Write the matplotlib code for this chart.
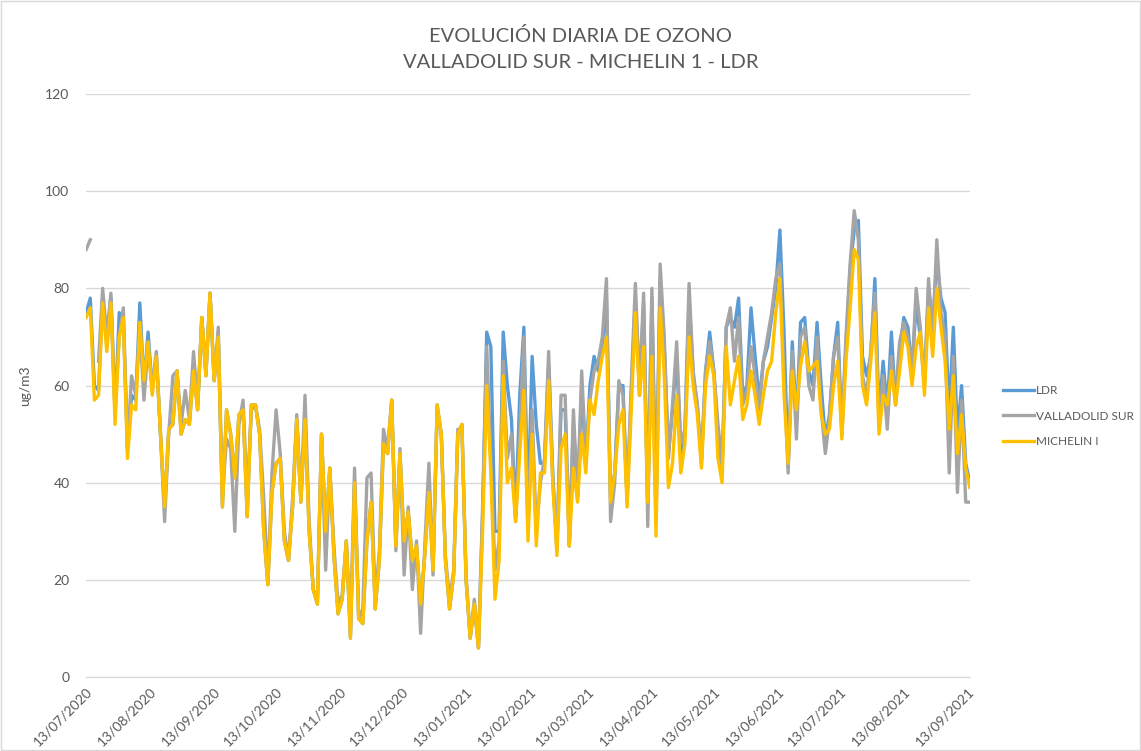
import matplotlib.pyplot as plt
import numpy as np
import pandas as pd
from matplotlib.patches import Rectangle

nan = float('nan')

# Ozone daily means (ug/m3), sampled every second day from 13/07/2020
start_date = '2020-07-13'

michelin = [74, 76, 57, 58, 77, 67, 77, 52, 70, 74,
            45, 56, 55, 73, 61, 69, 58, 66, 50, 35,
            51, 52, 63, 50, 53, 52, 63, 55, 74, 62,
            79, 61, 70, 35, 55, 50, 41, 54, 55, 33,
            56, 56, 50, 30, 19, 38, 44, 45, 28, 24,
            35, 53, 36, 53, 30, 18, 15, 50, 30, 43,
            25, 13, 16, 28, 8, 40, 12, 11, 28, 36,
            14, 24, 48, 46, 57, 27, 46, 28, 34, 24,
            27, 15, 25, 38, 22, 56, 50, 24, 14, 21,
            50, 52, 20, 8, 15, 6, 30, 60, 42, 16,
            24, 62, 40, 43, 32, 46, 59, 28, 50, 27,
            42, 42, 61, 40, 25, 47, 50, 27, 43, 36,
            50, 42, 57, 54, 61, 66, 70, 36, 42, 52,
            55, 35, 55, 75, 58, 68, 36, 66, 29, 76,
            62, 39, 44, 58, 42, 48, 70, 60, 54, 43,
            60, 66, 62, 45, 40, 68, 56, 61, 66, 53,
            56, 63, 58, 52, 58, 63, 65, 75, 82, 58,
            44, 63, 55, 64, 69, 63, 64, 65, 54, 50,
            51, 60, 65, 49, 65, 76, 88, 86, 60, 56,
            65, 75, 50, 58, 56, 63, 56, 63, 71, 68,
            60, 68, 71, 58, 76, 66, 80, 72, 65, 51,
            62, 46, 54, 43, 39]

valladolid_sur = [88, 90, nan, 65, 80, 70, 79, 55, 70, 76,
                  47, 62, 58, 72, 57, 68, 60, 67, 50, 32,
                  50, 62, 63, 52, 59, 53, 67, 56, 74, 63,
                  79, 61, 72, 37, 49, 47, 30, 52, 57, 37,
                  55, 56, 51, 37, 20, 42, 55, 46, 30, 24,
                  37, 54, 37, 58, 32, 18, 16, 50, 22, 43,
                  27, 15, 17, 28, 10, 43, 12, 14, 41, 42,
                  16, 26, 51, 47, 57, 26, 47, 21, 35, 18,
                  28, 9, 27, 44, 21, 55, 50, 25, 16, 22,
                  51, 51, 21, 8, 16, 6, 35, 68, 45, 22,
                  28, 65, 45, 50, 32, 50, 70, 30, 55, 30,
                  40, 45, 67, 40, 27, 58, 58, 27, 55, 37,
                  63, 45, 57, 63, 65, 70, 82, 32, 40, 61,
                  58, 37, 60, 81, 60, 79, 31, 80, 35, 85,
                  70, 45, 56, 69, 48, 51, 81, 63, 56, 45,
                  63, 69, 63, 52, 44, 72, 76, 65, 74, 56,
                  59, 68, 62, 55, 65, 70, 75, 82, 85, 62,
                  42, 67, 49, 70, 72, 60, 57, 70, 55, 46,
                  53, 66, 70, 51, 70, 85, 96, 90, 62, 58,
                  67, 79, 52, 62, 51, 66, 58, 69, 73, 70,
                  63, 80, 72, 60, 82, 70, 90, 75, 70, 42,
                  66, 38, 57, 36, 36]

ldr = [75, 78, 60, 59, 78, 70, 78, 54, 75, 74,
       47, 58, 57, 77, 60, 71, 59, 66, 50, 35,
       51, 52, 63, 50, 53, 52, 63, 55, 74, 62,
       79, 61, 70, 35, 55, 50, 41, 54, 55, 33,
       56, 56, 50, 30, 19, 38, 44, 45, 28, 24,
       35, 53, 36, 53, 30, 18, 15, 50, 30, 43,
       25, 13, 16, 28, 8, 40, 12, 11, 28, 36,
       14, 24, 48, 46, 57, 27, 46, 28, 34, 24,
       27, 15, 25, 38, 22, 56, 50, 24, 14, 21,
       50, 52, 20, 8, 15, 6, 33, 71, 68, 30,
       30, 71, 60, 53, 33, 58, 72, 35, 66, 52,
       44, 44, 64, 42, 26, 55, 55, 27, 52, 37,
       60, 44, 60, 66, 63, 68, 78, 37, 42, 60,
       60, 36, 58, 78, 58, 77, 35, 78, 32, 82,
       68, 46, 55, 66, 46, 50, 78, 62, 56, 44,
       63, 71, 63, 50, 42, 72, 74, 72, 78, 58,
       60, 76, 66, 57, 65, 68, 74, 80, 92, 71,
       43, 69, 52, 73, 74, 63, 60, 73, 60, 49,
       54, 66, 73, 50, 68, 84, 92, 94, 66, 62,
       66, 82, 54, 65, 55, 71, 56, 67, 74, 72,
       63, 77, 70, 60, 80, 72, 86, 78, 75, 54,
       72, 50, 60, 44, 40]

series_names = ['LDR', 'VALLADOLID SUR', 'MICHELIN I']
title_lines = ['EVOLUCIÓN DIARIA DE OZONO', 'VALLADOLID SUR - MICHELIN 1 - LDR']

if __name__ == '__main__':
    plt.rcParams['font.family'] = ['Lato', 'DejaVu Sans']
    grey_text = '#595959'

    dates = pd.date_range(start_date, periods=len(michelin), freq='2D')

    fig = plt.figure(figsize=(11.41, 7.51), dpi=100)
    ax = fig.add_axes([0.0755, 0.0985, 0.7745, 0.7763])

    ax.plot(dates, ldr, color='#5B9BD5', lw=2.4, label=series_names[0])
    ax.plot(dates, valladolid_sur, color='#A5A5A5', lw=2.4, label=series_names[1])
    ax.plot(dates, michelin, color='#FFC000', lw=2.4, label=series_names[2])

    ax.set_ylim(0, 120)
    ax.set_yticks(range(0, 121, 20))
    ax.set_xlim(pd.Timestamp('2020-07-13'), pd.Timestamp('2021-09-14'))
    ticks = pd.date_range('2020-07-13', '2021-09-13', freq=pd.DateOffset(months=1))
    ax.set_xticks(ticks)
    ax.set_xticklabels([d.strftime('%d/%m/%Y') for d in ticks], rotation=45,
                       ha='right', rotation_mode='anchor')

    ax.yaxis.grid(True, color='#d9d9d9', lw=1)
    ax.set_axisbelow(True)
    for side in ['top', 'right', 'left']:
        ax.spines[side].set_visible(False)
    ax.spines['bottom'].set_color('#d9d9d9')
    ax.tick_params(axis='both', length=0, labelsize=10, colors=grey_text)
    ax.tick_params(axis='y', pad=12)
    ax.tick_params(axis='x', pad=6)
    ax.set_ylabel('ug/m3', fontsize=10, color=grey_text, labelpad=10)

    fig.text(0.509, 0.952, title_lines[0], ha='center', va='center', fontsize=14.5, color=grey_text)
    fig.text(0.509, 0.917, title_lines[1], ha='center', va='center', fontsize=14.5, color=grey_text)

    fig.legend(loc='center left', bbox_to_anchor=(0.875, 0.446), frameon=False,
               fontsize=8.5, labelcolor=grey_text, handlelength=2.6,
               handletextpad=0.2, labelspacing=1.25, borderaxespad=0.0)

    fig.patches.append(Rectangle((0.0005, 0.001), 0.999, 0.998, transform=fig.transFigure,
                                 fill=False, edgecolor='#d9d9d9', lw=1))

    fig.savefig('out.png', dpi=100)
